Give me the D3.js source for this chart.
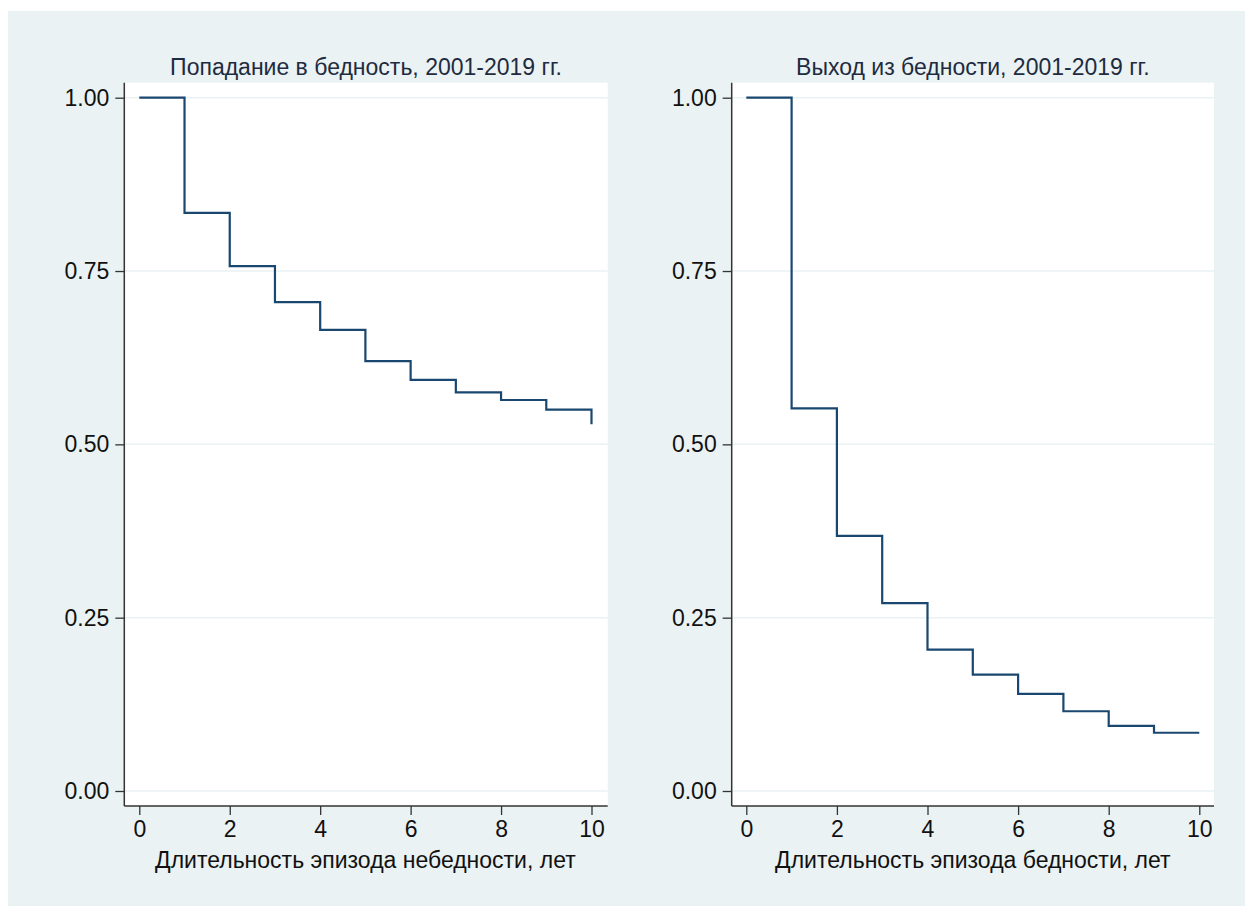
<!DOCTYPE html>
<html>
<head>
<meta charset="utf-8">
<script src="https://cdn.jsdelivr.net/npm/d3@7"></script>
<style>
  body { margin: 0; background: #fff; }
  text { font-family: "Liberation Sans", Arial, sans-serif; }
</style>
</head>
<body>
<div id="chart"></div>
<script>
// survival estimates
var years = [0, 1, 2, 3, 4, 5, 6, 7, 8, 9, 10];
var entryValues = [1.000, 0.834, 0.757, 0.705, 0.665, 0.620, 0.593, 0.575, 0.564, 0.550, 0.529];
var exitValues = [1.000, 0.552, 0.368, 0.271, 0.204, 0.168, 0.140, 0.115, 0.094, 0.084, 0.084];
var xTicks = [0, 2, 4, 6, 8, 10];
var yTicks = [0, 0.25, 0.5, 0.75, 1];
var titles = ["Попадание в бедность, 2001-2019 гг.", "Выход из бедности, 2001-2019 гг."];
var xTitles = ["Длительность эпизода небедности, лет", "Длительность эпизода бедности, лет"];

var width = 1245, height = 906;

var svg = d3.select("#chart").append("svg")
    .attr("width", width)
    .attr("height", height);

svg.append("rect")
    .attr("x", 8).attr("y", 11)
    .attr("width", width - 8).attr("height", height - 11)
    .attr("fill", "#eaf2f3");

var panels = [
    { left: 124.3, right: 607.7, values: entryValues, title: titles[0], xTitle: xTitles[0], x0: 139.3, x1: 591.5 },
    { left: 731.7, right: 1214, values: exitValues, title: titles[1], xTitle: xTitles[1], x0: 746.3, x1: 1199.3 }
];

var plotTop = 82.7, plotBottom = 806;

var y = d3.scaleLinear().domain([0, 1]).range([791, 97.7]);

panels.forEach(function (p) {
    var x = d3.scaleLinear().domain([0, 10]).range([p.x0, p.x1]);

    var g = svg.append("g");

    g.append("rect")
        .attr("x", p.left).attr("y", plotTop)
        .attr("width", p.right - p.left).attr("height", plotBottom - plotTop)
        .attr("fill", "#fff");

    // grid
    g.selectAll(".grid")
        .data(yTicks)
        .enter()
        .append("line")
        .attr("x1", p.left).attr("x2", p.right)
        .attr("y1", function (d) { return y(d); })
        .attr("y2", function (d) { return y(d); })
        .attr("stroke", "#eaf2f3")
        .attr("stroke-width", 1.5);

    // step line
    var pts = [];
    p.values.forEach(function (v, i) {
        if (i > 0) pts.push([years[i], p.values[i - 1]]);
        pts.push([years[i], v]);
    });
    var line = d3.line()
        .x(function (d) { return x(d[0]); })
        .y(function (d) { return y(d[1]); });
    g.append("path")
        .attr("d", line(pts))
        .attr("fill", "none")
        .attr("stroke", "#1a476f")
        .attr("stroke-width", 2.2);

    // axes
    var yAxis = d3.axisLeft(y)
        .tickValues(yTicks)
        .tickFormat(d3.format(".2f"))
        .tickSizeInner(9)
        .tickSizeOuter(0)
        .tickPadding(6);
    var yg = g.append("g")
        .attr("transform", "translate(" + p.left + ",0)")
        .call(yAxis);
    yg.select(".domain").attr("d", "M0," + plotTop + "V" + plotBottom).attr("stroke", "#333").attr("stroke-width", 1.5);

    var xAxis = d3.axisBottom(x)
        .tickValues(xTicks)
        .tickSizeInner(9)
        .tickSizeOuter(0)
        .tickPadding(6);
    var xg = g.append("g")
        .attr("transform", "translate(0," + plotBottom + ")")
        .call(xAxis);
    xg.select(".domain").attr("d", "M" + p.left + ",0H" + p.right).attr("stroke", "#333").attr("stroke-width", 1.5);

    g.selectAll(".tick line").attr("stroke", "#333").attr("stroke-width", 1.3);
    g.selectAll(".tick text")
        .attr("font-size", "23px")
        .attr("fill", "#111");

    g.append("text")
        .attr("x", (p.left + p.right) / 2)
        .attr("y", 75)
        .attr("text-anchor", "middle")
        .attr("font-size", "23px")
        .attr("fill", "#1e2b40")
        .text(p.title);

    g.append("text")
        .attr("x", (p.x0 + p.x1) / 2)
        .attr("y", 868)
        .attr("text-anchor", "middle")
        .attr("font-size", "23px")
        .attr("fill", "#111")
        .text(p.xTitle);
});
</script>
</body>
</html>
